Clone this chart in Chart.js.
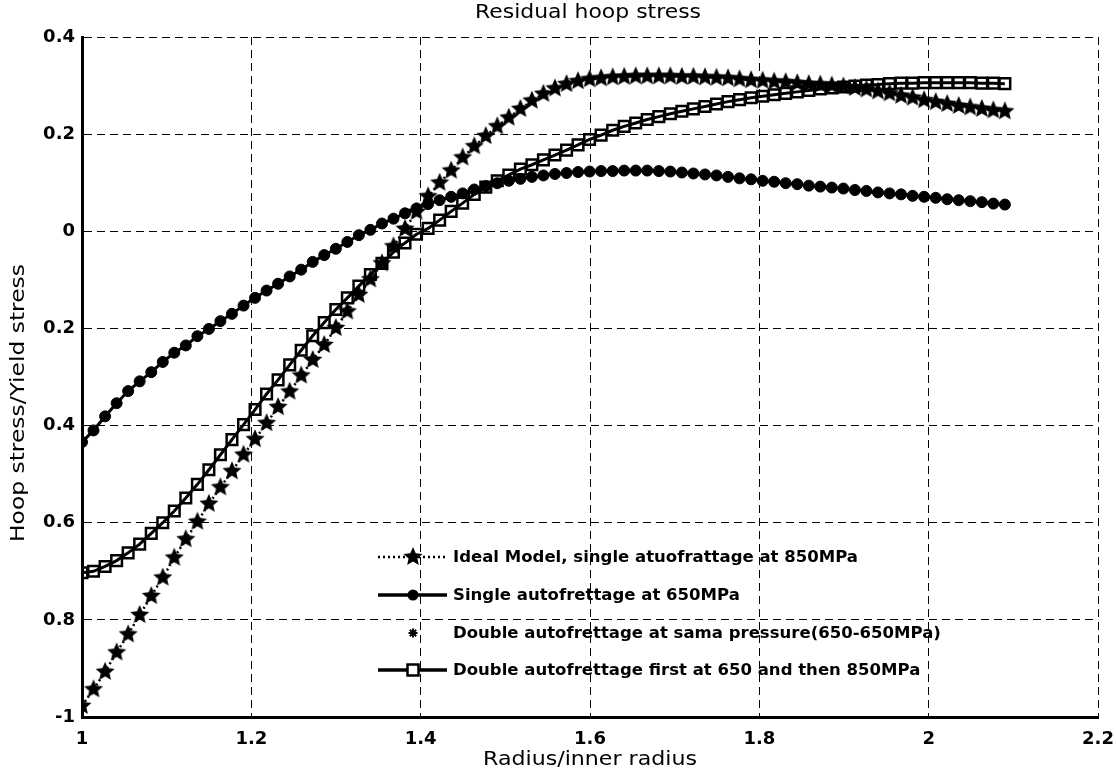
<!DOCTYPE html>
<html>
<head>
<meta charset="utf-8">
<title>Residual hoop stress</title>
<script src="https://cdn.jsdelivr.net/npm/chart.js@4.4.1/dist/chart.umd.min.js"></script>
<style>
  html, body { margin: 0; padding: 0; background: #fff; }
  #wrap { width: 1116px; height: 772px; position: relative; }
</style>
</head>
<body>
<div id="wrap"><canvas id="hoopChart"></canvas></div>
<script>
// ---------- DATA ----------
// radius ratio r/a at each computed station
const radiusRatio = [
  1.0000, 1.0136, 1.0273, 1.0409, 1.0545, 1.0681, 1.0818, 1.0954, 1.1090, 1.1226,
  1.1363, 1.1499, 1.1635, 1.1771, 1.1908, 1.2044, 1.2180, 1.2316, 1.2453, 1.2589,
  1.2725, 1.2861, 1.2998, 1.3134, 1.3270, 1.3406, 1.3543, 1.3679, 1.3815, 1.3951,
  1.4088, 1.4224, 1.4360, 1.4496, 1.4633, 1.4769, 1.4905, 1.5041, 1.5178, 1.5314,
  1.5450, 1.5586, 1.5723, 1.5859, 1.5995, 1.6131, 1.6268, 1.6404, 1.6540, 1.6676,
  1.6813, 1.6949, 1.7085, 1.7221, 1.7358, 1.7494, 1.7630, 1.7766, 1.7903, 1.8039,
  1.8175, 1.8311, 1.8448, 1.8584, 1.8720, 1.8856, 1.8993, 1.9129, 1.9265, 1.9401,
  1.9538, 1.9674, 1.9810, 1.9946, 2.0083, 2.0219, 2.0355, 2.0491, 2.0628, 2.0764,
  2.0900
];

// hoop stress / yield stress
const idealModel850 = [
  -0.977, -0.943, -0.907, -0.867, -0.830, -0.790, -0.751, -0.713, -0.672, -0.634,
  -0.598, -0.561, -0.527, -0.494, -0.460, -0.428, -0.395, -0.362, -0.330, -0.297,
  -0.265, -0.234, -0.199, -0.165, -0.131, -0.099, -0.066, -0.031, 0.005, 0.040,
  0.072, 0.100, 0.125, 0.152, 0.175, 0.196, 0.216, 0.234, 0.252, 0.269,
  0.283, 0.294, 0.303, 0.309, 0.313, 0.315, 0.317, 0.318, 0.319, 0.319,
  0.319, 0.319, 0.318, 0.318, 0.317, 0.316, 0.315, 0.313, 0.311, 0.310,
  0.308, 0.307, 0.305, 0.303, 0.302, 0.300, 0.298, 0.295, 0.292, 0.288,
  0.284, 0.279, 0.275, 0.270, 0.266, 0.262, 0.258, 0.255, 0.252, 0.249,
  0.247
];

const single650 = [
  -0.434, -0.410, -0.381, -0.354, -0.329, -0.309, -0.290, -0.269, -0.250, -0.235,
  -0.216, -0.201, -0.185, -0.170, -0.153, -0.137, -0.122, -0.108, -0.093, -0.079,
  -0.063, -0.049, -0.036, -0.022, -0.008, 0.003, 0.016, 0.026, 0.037, 0.047,
  0.056, 0.064, 0.071, 0.078, 0.086, 0.093, 0.099, 0.104, 0.108, 0.112,
  0.115, 0.118, 0.120, 0.122, 0.123, 0.124, 0.124, 0.125, 0.125, 0.125,
  0.124, 0.123, 0.121, 0.119, 0.117, 0.115, 0.112, 0.109, 0.107, 0.104,
  0.102, 0.099, 0.097, 0.094, 0.092, 0.090, 0.088, 0.085, 0.083, 0.080,
  0.078, 0.076, 0.073, 0.071, 0.069, 0.066, 0.064, 0.062, 0.060, 0.057,
  0.055
];

// re-autofrettage at the same pressure gives the same residual field
const doubleSame650 = single650.slice();

const double650then850 = [
  -0.703, -0.700, -0.690, -0.678, -0.662, -0.644, -0.622, -0.600, -0.576, -0.549,
  -0.521, -0.491, -0.460, -0.429, -0.398, -0.367, -0.335, -0.306, -0.275, -0.245,
  -0.215, -0.188, -0.161, -0.137, -0.113, -0.089, -0.066, -0.043, -0.024, -0.006,
  0.006, 0.023, 0.041, 0.058, 0.076, 0.091, 0.104, 0.116, 0.128, 0.137,
  0.147, 0.157, 0.167, 0.178, 0.189, 0.198, 0.208, 0.216, 0.223, 0.230,
  0.236, 0.242, 0.247, 0.252, 0.257, 0.262, 0.267, 0.271, 0.275, 0.278,
  0.281, 0.284, 0.287, 0.290, 0.293, 0.295, 0.297, 0.299, 0.301, 0.302,
  0.304, 0.305, 0.305, 0.306, 0.306, 0.306, 0.306, 0.306, 0.305, 0.305,
  0.304
];

const seriesLabels = [
  "Ideal Model, single atuofrattage at 850MPa",
  "Single autofrettage at 650MPa",
  "Double autofrettage at sama pressure(650-650MPa)",
  "Double autofrettage first at 650 and then 850MPa"
];

const xTicks = { min: 1, max: 2.2, step: 0.2 };
const yTicks = { min: -1, max: 0.4, step: 0.2 };

const FONT = "'DejaVu Sans', 'Liberation Sans', Arial, sans-serif";

// ---------- MARKERS ----------
function makeStar(outer, inner) {
  const size = Math.ceil(outer * 2 + 2);
  const c = document.createElement("canvas");
  c.width = size; c.height = size;
  const g = c.getContext("2d");
  g.translate(size / 2, size / 2);
  g.beginPath();
  for (let k = 0; k < 10; k++) {
    const r = k % 2 === 0 ? outer : inner;
    const a = -Math.PI / 2 + k * Math.PI / 5;
    g.lineTo(r * Math.cos(a), r * Math.sin(a));
  }
  g.closePath();
  g.fillStyle = "#000";
  g.fill();
  return c;
}
const starMarker = makeStar(10, 4.6);

function toPoints(ys) {
  return ys.map((y, i) => ({ x: radiusRatio[i], y: y }));
}

const datasets = [
  {
    label: seriesLabels[0],
    data: toPoints(idealModel850),
    borderColor: "#000",
    borderWidth: 2.5,
    borderDash: [2, 3],
    pointStyle: starMarker,
    pointRadius: 8,
    showLine: true
  },
  {
    label: seriesLabels[1],
    data: toPoints(single650),
    borderColor: "#000",
    backgroundColor: "#000",
    borderWidth: 3,
    pointStyle: "circle",
    pointRadius: 5.5,
    pointBorderWidth: 1,
    showLine: true
  },
  {
    label: seriesLabels[2],
    data: toPoints(doubleSame650),
    borderColor: "#000",
    backgroundColor: "#000",
    borderWidth: 1.5,
    pointStyle: "star",
    pointRadius: 3.5,
    pointBorderWidth: 1.5,
    showLine: false
  },
  {
    label: seriesLabels[3],
    data: toPoints(double650then850),
    borderColor: "#000",
    backgroundColor: "rgba(0,0,0,0)",
    borderWidth: 3,
    pointStyle: "rect",
    pointRadius: 7.5,
    pointBorderWidth: 2.5,
    showLine: true
  }
];

// ---------- TITLES + LEGEND ----------
const legendRows = [
  { line: "dot", marker: "star" },
  { line: "solid", marker: "circle" },
  { line: "none", marker: "asterisk" },
  { line: "solid", marker: "square" }
];

// text squeezed/stretched horizontally to a given width
function fitText(ctx, text, cx, cy, width, align) {
  const w = ctx.measureText(text).width;
  const sx = width / w;
  ctx.save();
  ctx.translate(cx, cy);
  ctx.scale(sx, 1);
  ctx.textAlign = align || "center";
  ctx.fillText(text, 0, 0);
  ctx.restore();
  return sx;
}

const overlayPlugin = {
  id: "overlay",
  afterDraw(chart) {
    const ctx = chart.ctx;
    const area = chart.chartArea;
    ctx.save();
    ctx.fillStyle = "#000";
    ctx.textBaseline = "middle";

    ctx.font = "19px " + FONT;
    fitText(ctx, "Residual hoop stress", 588, 13, 226);
    fitText(ctx, "Radius/inner radius", (area.left + area.right) / 2, 760, 214);

    ctx.save();
    ctx.translate(19, 403);
    ctx.rotate(-Math.PI / 2);
    fitText(ctx, "Hoop stress/Yield stress", 0, 0, 278);
    ctx.restore();

    // legend
    const x0 = 378, x1 = 447, xm = 413, xt = 453;
    const rowY = [557, 595, 633, 670];
    ctx.font = "bold 15px " + FONT;
    const sx = 405 / ctx.measureText(seriesLabels[0]).width;
    legendRows.forEach((row, i) => {
      const y = rowY[i];
      ctx.strokeStyle = "#000";
      if (row.line !== "none") {
        ctx.lineWidth = row.line === "dot" ? 2.5 : 3.5;
        ctx.setLineDash(row.line === "dot" ? [2, 3] : []);
        ctx.beginPath();
        ctx.moveTo(x0, y);
        ctx.lineTo(x1, y);
        ctx.stroke();
        ctx.setLineDash([]);
      }
      if (row.marker === "star") {
        ctx.drawImage(starMarker, xm - starMarker.width / 2, y - starMarker.height / 2);
      } else if (row.marker === "circle") {
        ctx.beginPath();
        ctx.arc(xm, y, 5.5, 0, Math.PI * 2);
        ctx.fill();
      } else if (row.marker === "asterisk") {
        ctx.lineWidth = 2;
        ctx.beginPath();
        for (let k = 0; k < 4; k++) {
          const a = k * Math.PI / 4;
          ctx.moveTo(xm - 4.5 * Math.cos(a), y - 4.5 * Math.sin(a));
          ctx.lineTo(xm + 4.5 * Math.cos(a), y + 4.5 * Math.sin(a));
        }
        ctx.stroke();
      } else if (row.marker === "square") {
        ctx.lineWidth = 2.5;
        ctx.fillStyle = "#fff";
        ctx.fillRect(xm - 5.5, y - 5.5, 11, 11);
        ctx.strokeRect(xm - 5.5, y - 5.5, 11, 11);
        ctx.fillStyle = "#000";
      }
      ctx.save();
      ctx.translate(xt, y + 1);
      ctx.scale(sx, 1);
      ctx.textAlign = "left";
      ctx.fillText(seriesLabels[i], 0, 0);
      ctx.restore();
    });
    ctx.restore();
  }
};

// ---------- CHART ----------
function fmtX(v) {
  return String(Number(v.toFixed(1)));
}
function fmtY(v) {
  const r = Number(v.toFixed(1));
  if (r === -1) return "-1";
  return String(Math.abs(r));
}

new Chart(document.getElementById("hoopChart"), {
  type: "scatter",
  data: { datasets: datasets },
  plugins: [overlayPlugin],
  options: {
    responsive: true,
    maintainAspectRatio: false,
    animation: false,
    layout: { padding: { top: 37, right: 18, bottom: 0, left: 0 } },
    plugins: {
      legend: { display: false },
      title: { display: false },
      tooltip: { enabled: false }
    },
    scales: {
      x: {
        type: "linear",
        min: xTicks.min,
        max: xTicks.max,
        afterFit: (scale) => {
          scale.height = 55;
          scale.paddingLeft = 0;
          scale.paddingRight = 0;
        },
        ticks: {
          stepSize: xTicks.step,
          color: "#000",
          padding: 12,
          maxRotation: 0,
          font: { family: FONT, size: 18, weight: "bold" },
          callback: fmtX
        },
        grid: { color: "#000", lineWidth: 1, drawTicks: false },
        border: { display: true, color: "#000", width: 3, dash: [8, 5] }
      },
      y: {
        type: "linear",
        min: yTicks.min,
        max: yTicks.max,
        afterFit: (scale) => { scale.width = 82; },
        ticks: {
          stepSize: yTicks.step,
          color: "#000",
          padding: 7,
          font: { family: FONT, size: 18, weight: "bold" },
          callback: fmtY
        },
        grid: { color: "#000", lineWidth: 1, drawTicks: false },
        border: { display: true, color: "#000", width: 3, dash: [8, 5] }
      }
    }
  }
});
</script>
</body>
</html>
